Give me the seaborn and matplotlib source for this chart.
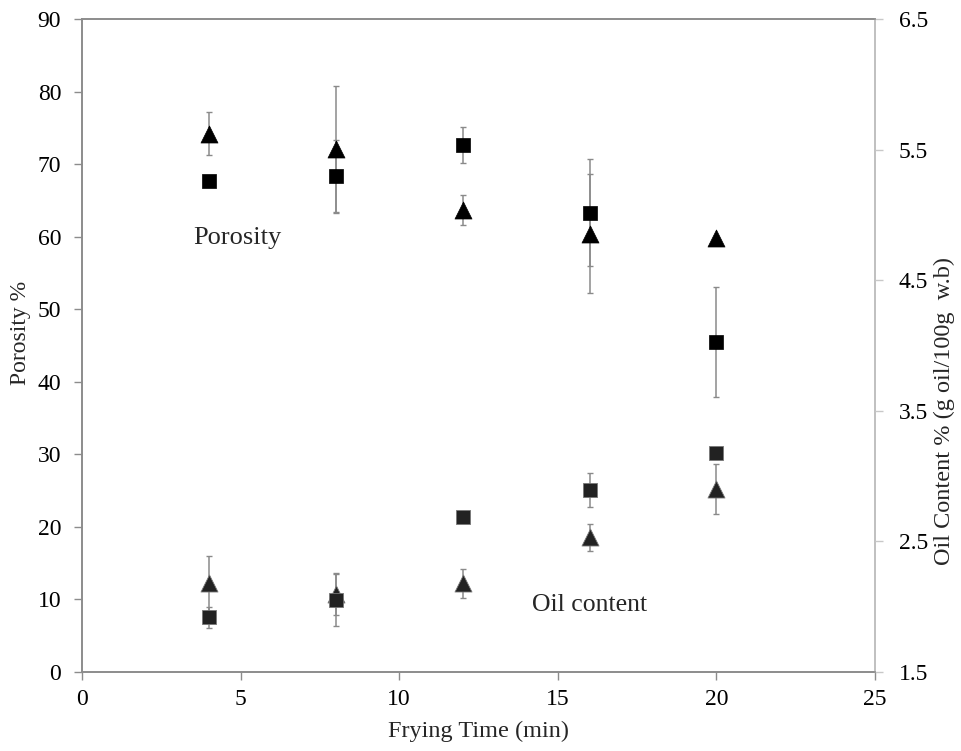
import matplotlib
matplotlib.use("Agg")
import matplotlib.pyplot as plt
import seaborn as sns
import pandas as pd

# ---- data ----
frying_time = [4, 8, 12, 16, 20]
porosity_tri = [74.2, 72.1, 63.7, 60.4, 59.8]
porosity_tri_err = [3.0, 8.7, 2.1, 8.2, 0.0]
porosity_sq = [67.7, 68.3, 72.6, 63.3, 45.5]
porosity_sq_err = [0.0, 5.0, 2.5, 7.4, 7.6]
oil_tri = [2.18, 2.10, 2.18, 2.53, 2.90]
oil_tri_err = [0.21, 0.16, 0.11, 0.10, 0.19]
oil_sq = [1.92, 2.05, 2.69, 2.89, 3.18]
oil_sq_err = [0.08, 0.20, 0.0, 0.13, 0.0]
x_ticks = [0, 5, 10, 15, 20, 25]
left_ticks = [0, 10, 20, 30, 40, 50, 60, 70, 80, 90]
right_ticks = [1.5, 2.5, 3.5, 4.5, 5.5, 6.5]

sns.set_style("white")
plt.rcParams['font.family'] = ['Liberation Serif', 'DejaVu Serif']

fig = plt.figure(figsize=(9.61, 7.51), dpi=100)
ax = fig.add_axes([82/961, 79/751, (875-82)/961, (672-19)/751])
ax2 = ax.twinx()

por = pd.DataFrame({"t": frying_time, "tri": porosity_tri, "sq": porosity_sq})
oil = pd.DataFrame({"t": frying_time, "tri": oil_tri, "sq": oil_sq})

ebkw = dict(fmt="none", ecolor="#8a8a8a", elinewidth=1.1, capsize=2.2, capthick=1.0, zorder=1)

ax.errorbar(frying_time, porosity_tri, yerr=porosity_tri_err, **ebkw)
ax.errorbar(frying_time, porosity_sq, yerr=porosity_sq_err, **ebkw)
ax2.errorbar(frying_time, oil_tri, yerr=oil_tri_err, **ebkw)
ax2.errorbar(frying_time, oil_sq, yerr=oil_sq_err, **ebkw)

sns.scatterplot(data=por, x="t", y="tri", marker="^", s=150, color="black",
                edgecolor="black", linewidth=0.5, ax=ax, legend=False)
sns.scatterplot(data=por, x="t", y="sq", marker="s", s=110, color="black",
                edgecolor="black", linewidth=0.5, ax=ax, legend=False)
sns.scatterplot(data=oil, x="t", y="tri", marker="^", s=150, color="#222222",
                edgecolor="#777777", linewidth=0.6, ax=ax2, legend=False)
sns.scatterplot(data=oil, x="t", y="sq", marker="s", s=110, color="#222222",
                edgecolor="#777777", linewidth=0.6, ax=ax2, legend=False)

ax.set_xlim(0, 25)
ax.set_ylim(0, 90)
ax2.set_ylim(1.5, 6.5)
ax.set_xticks(x_ticks)
ax.set_yticks(left_ticks)
ax2.set_yticks(right_ticks)
ax2.set_yticklabels([f"{v:.1f}" for v in right_ticks])

for a in (ax, ax2):
    for s in a.spines.values():
        s.set_color("#8c8c8c")
        s.set_linewidth(1.2)
ax2.spines["right"].set_color("#c8c8c8")

ax.tick_params(axis="both", direction="out", length=6, width=1, color="#8c8c8c",
               labelsize=17, labelcolor="black")
ax.tick_params(axis="x", bottom=True, pad=6)
ax.tick_params(axis="y", left=True, pad=9)
ax2.tick_params(axis="y", direction="out", length=6, width=1, color="#c8c8c8",
                labelsize=17, labelcolor="black", right=True, pad=11)

ax.set_xlabel("Frying Time (min)", fontsize=17.5, labelpad=8)
ax.set_ylabel("Porosity %", fontsize=17)
ax.yaxis.set_label_coords(-0.064, 0.52)
ax2.set_ylabel("Oil Content % (g oil/100g  w.b)", fontsize=17.5)
ax2.yaxis.set_label_coords(1.074, 0.40)

ax.text(3.5, 59.8, "Porosity", fontsize=19, va="center", ha="left")
ax.text(14.2, 9.3, "Oil content", fontsize=18.5, va="center", ha="left")

fig.savefig("out.png", dpi=100, facecolor="white")
